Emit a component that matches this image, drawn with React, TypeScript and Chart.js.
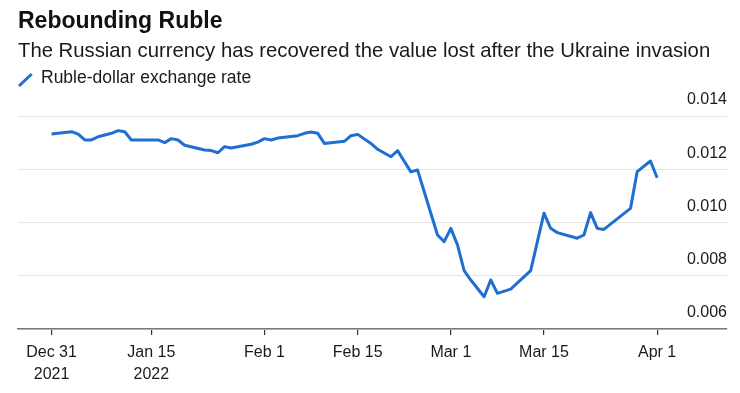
import React, { useEffect, useRef } from "react";
import { Chart, registerables } from "chart.js";

Chart.register(...registerables);

// Days since Dec 31, 2021
const dayOffsets: number[] = [
  0, 3, 4, 5, 6, 7, 9, 10, 11, 12,
  16, 17, 18, 19, 20, 23, 24, 25, 26, 27,
  30, 31, 32, 33, 34, 37, 38, 39, 40, 41,
  44, 45, 46, 48, 49, 51, 52, 54, 55, 58,
  59, 60, 61, 62, 63, 65, 66, 67, 69, 72,
  74, 75, 76, 79, 80, 81, 82, 83, 87, 88,
  90, 91,
];

// Ruble-dollar exchange rate
const rubleUsd: number[] = [
  0.01332, 0.01341, 0.01332, 0.0131, 0.0131, 0.01322, 0.01335, 0.01345, 0.01341, 0.0131,
  0.0131, 0.013, 0.01315, 0.0131, 0.0129, 0.01272, 0.0127, 0.01262, 0.01285, 0.0128,
  0.01294, 0.01302, 0.01315, 0.0131, 0.01317, 0.01326, 0.01335, 0.0134, 0.01335, 0.01297,
  0.01305, 0.01326, 0.01331, 0.01297, 0.01275, 0.01247, 0.0127, 0.0119, 0.01197, 0.00953,
  0.00928, 0.00978, 0.00916, 0.00819, 0.00784, 0.00721, 0.00784, 0.00734, 0.0075, 0.00819,
  0.01035, 0.00978, 0.00962, 0.00941, 0.00953, 0.01037, 0.00978, 0.00974, 0.01053, 0.01191,
  0.01231, 0.01168,
];

const xTickDays: number[] = [0, 15, 32, 46, 60, 74, 91];
const xTickLabels: string[][] = [
  ["Dec 31", "2021"],
  ["Jan 15", "2022"],
  ["Feb 1"],
  ["Feb 15"],
  ["Mar 1"],
  ["Mar 15"],
  ["Apr 1"],
];
const yTicks: number[] = [0.006, 0.008, 0.01, 0.012, 0.014];

const TITLE = "Rebounding Ruble";
const SUBTITLE = "The Russian currency has recovered the value lost after the Ukraine invasion";
const LEGEND = "Ruble-dollar exchange rate";

const BLUE = "#1f6fd3";
const FONT = '"Liberation Sans", Arial, Helvetica, sans-serif';

export default function App() {
  const ref = useRef<HTMLCanvasElement | null>(null);

  useEffect(() => {
    document.body.style.margin = "0";
    const canvas = ref.current;
    if (!canvas) return;
    const chart = new Chart(canvas, {
      type: "line",
      data: {
        datasets: [
          {
            label: LEGEND,
            data: dayOffsets.map((d, i) => ({ x: d, y: rubleUsd[i] })),
            borderColor: BLUE,
            borderWidth: 3,
            pointRadius: 0,
            tension: 0,
            borderJoinStyle: "round",
            borderCapStyle: "butt",
            fill: false,
          },
        ],
      },
      options: {
        animation: false,
        responsive: false,
        devicePixelRatio: 1,
        layout: { padding: { left: 18, right: 13, top: 116, bottom: 0 } },
        plugins: {
          legend: { display: false },
          tooltip: { enabled: false },
          title: { display: false },
        },
        scales: {
          x: {
            type: "linear",
            min: -5.04,
            max: 101.5,
            afterBuildTicks: (scale: any) => {
              scale.ticks = xTickDays.map((v) => ({ value: v }));
            },
            afterFit: (scale: any) => {
              scale.height = 64;
            },
            grid: {
              display: true,
              drawOnChartArea: false,
              drawTicks: true,
              tickLength: 6,
              color: "#333333",
              lineWidth: 1.2,
            },
            border: { display: true, color: "#7a7a7a", width: 1.6 },
            ticks: {
              autoSkip: false,
              maxRotation: 0,
              padding: 7,
              color: "#1a1a1a",
              font: { family: FONT, size: 16, lineHeight: 1.34 },
              callback: (value: any) => {
                const i = xTickDays.indexOf(Number(value));
                return i >= 0 ? xTickLabels[i] : "";
              },
            },
          },
          y: {
            type: "linear",
            position: "right",
            min: 0.006,
            max: 0.014,
            afterBuildTicks: (scale: any) => {
              scale.ticks = yTicks.map((v) => ({ value: v }));
            },
            afterFit: (scale: any) => {
              scale.width = 0;
            },
            grid: {
              color: "#e6e6e6",
              lineWidth: 1,
              drawTicks: false,
            },
            border: { display: false },
            ticks: {
              mirror: true,
              padding: 0,
              labelOffset: -16,
              color: "#1a1a1a",
              font: { family: FONT, size: 16 },
              callback: (value: any) => Number(value).toFixed(3),
            },
          },
        },
      },
    });
    return () => chart.destroy();
  }, []);

  return (
    <div
      style={{
        position: "fixed",
        left: 0,
        top: 0,
        width: 740,
        height: 393,
        background: "#ffffff",
        fontFamily: FONT,
        overflow: "hidden",
      }}
    >
      <canvas
        ref={ref}
        width={740}
        height={393}
        style={{ position: "absolute", left: 0, top: 0, width: 740, height: 393 }}
      />
      <div
        style={{
          position: "absolute",
          left: 18,
          top: 8.8,
          fontSize: 23,
          lineHeight: "23px",
          fontWeight: 700,
          color: "#111111",
          whiteSpace: "nowrap",
        }}
      >
        {TITLE}
      </div>
      <div
        style={{
          position: "absolute",
          left: 18,
          top: 39.5,
          fontSize: 20.3,
          lineHeight: "20.3px",
          color: "#1a1a1a",
          whiteSpace: "nowrap",
        }}
      >
        {SUBTITLE}
      </div>
      <svg
        width={20}
        height={20}
        style={{ position: "absolute", left: 15, top: 70 }}
      >
        <line x1={4} y1={16} x2={16.7} y2={4} stroke={BLUE} strokeWidth={3} />
      </svg>
      <div
        style={{
          position: "absolute",
          left: 41,
          top: 69.2,
          fontSize: 17.5,
          lineHeight: "17.5px",
          color: "#1a1a1a",
          whiteSpace: "nowrap",
        }}
      >
        {LEGEND}
      </div>
    </div>
  );
}
